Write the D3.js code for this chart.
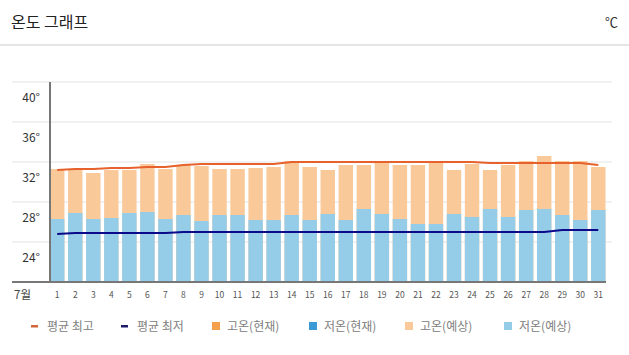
<!DOCTYPE html>
<html><head><meta charset="utf-8">
<script src="https://cdn.jsdelivr.net/npm/d3@7"></script>
<style>
body{margin:0;background:#fff;}
svg{display:block;font-family:"Noto Sans CJK KR","Noto Sans",sans-serif;}
</style></head>
<body><svg id="c" width="629" height="355"></svg>
<script>
const days = d3.range(1, 32).map(String);
const highForecast = [31.3,31.3,30.9,31.2,31.2,31.8,31.3,31.7,31.6,31.3,31.3,31.4,31.5,32.1,31.5,31.2,31.7,31.7,32.1,31.7,31.7,32.1,31.2,31.8,31.2,31.7,32.1,32.6,32.1,32.1,31.5];
const lowForecast = [26.3,26.9,26.3,26.4,26.9,27.0,26.3,26.7,26.1,26.7,26.7,26.2,26.2,26.7,26.2,26.8,26.2,27.3,26.8,26.3,25.8,25.8,26.8,26.5,27.3,26.5,27.2,27.3,26.7,26.2,27.2];
const avgHigh = [31.2,31.3,31.3,31.4,31.4,31.5,31.5,31.7,31.8,31.8,31.8,31.8,31.8,32.0,32.0,32.0,32.0,32.0,32.0,32.0,32.0,32.0,32.0,32.0,31.9,31.9,31.9,31.9,31.9,31.9,31.7];
const avgLow = [24.8,24.9,24.9,24.9,24.9,24.9,24.9,25.0,25.0,25.0,25.0,25.0,25.0,25.0,25.0,25.0,25.0,25.0,25.0,25.0,25.0,25.0,25.0,25.0,25.0,25.0,25.0,25.0,25.2,25.2,25.2];
const yTicks = [24, 28, 32, 36, 40];
const legendLabels = ["평균 최고","평균 최저","고온(현재)","저온(현재)","고온(예상)","저온(예상)"];
const legendColors = ["#d0673a","#1b1b6a","#f5a04a","#3a9ad6","#f9c99a","#95cde8"];

const svg = d3.select("#c");
const x = d3.scaleBand().domain(days).range([50, 605.5]).paddingInner(0.2).paddingOuter(0);
const y = d3.scaleLinear().domain([20, 40]).range([282, 82]);

// title
svg.append("text").attr("x", 11).attr("y", 28).attr("font-size", 16).attr("fill", "#222").text("온도 그래프");
svg.append("text").attr("x", 618).attr("y", 27).attr("text-anchor", "end").attr("font-size", 13).attr("fill", "#333").text("℃");
svg.append("line").attr("x1", 0).attr("x2", 629).attr("y1", 45).attr("y2", 45).attr("stroke", "#dcdcdc").attr("stroke-width", 1.5);

// gridlines
svg.append("g").selectAll("line").data(yTicks).join("line")
  .attr("x1", 12).attr("x2", 612).attr("y1", d => y(d)).attr("y2", d => y(d))
  .attr("stroke", "#ececec").attr("stroke-width", 1.5);
svg.append("g").selectAll("text").data(yTicks).join("text")
  .attr("x", 40).attr("y", d => y(d) + 20).attr("text-anchor", "end")
  .attr("font-size", 12).attr("fill", "#333").text(d => d + "°");

// bars
svg.append("g").selectAll("rect").data(highForecast).join("rect")
  .attr("x", (d, i) => x(days[i])).attr("width", x.bandwidth())
  .attr("y", d => y(d)).attr("height", d => y(20) - y(d)).attr("fill", "#f9c99a");
svg.append("g").selectAll("rect").data(lowForecast).join("rect")
  .attr("x", (d, i) => x(days[i])).attr("width", x.bandwidth())
  .attr("y", d => y(d)).attr("height", d => y(20) - y(d)).attr("fill", "#95cde8");

// lines
const cx = i => x(days[i]) + x.bandwidth() / 2;
const line = d3.line().x((d, i) => cx(i)).y(d => y(d));
svg.append("path").datum(avgHigh).attr("d", line).attr("fill", "none").attr("stroke", "#e6612c").attr("stroke-width", 2.2);
svg.append("path").datum(avgLow).attr("d", line).attr("fill", "none").attr("stroke", "#0a0a8a").attr("stroke-width", 2.2);

// axes
svg.append("line").attr("x1", 50).attr("x2", 50).attr("y1", 82).attr("y2", 282).attr("stroke", "#777").attr("stroke-width", 2);
svg.append("line").attr("x1", 12).attr("x2", 606).attr("y1", 282).attr("y2", 282).attr("stroke", "#777").attr("stroke-width", 2);

// day labels
svg.append("g").selectAll("text").data(days).join("text")
  .attr("x", (d, i) => cx(i)).attr("y", 298).attr("text-anchor", "middle")
  .attr("font-size", 8.5).attr("fill", "#555").text(d => d);
svg.append("text").attr("x", 14).attr("y", 299).attr("font-size", 11.5).attr("fill", "#444").text("7월");

// legend
const lgX = [31, 121, 212, 309, 405, 504];
const lg = svg.append("g");
legendLabels.forEach((t, i) => {
  if (i < 2) {
    lg.append("rect").attr("x", lgX[i]).attr("y", 325).attr("width", 7).attr("height", 2.5).attr("fill", legendColors[i]);
  } else {
    lg.append("rect").attr("x", lgX[i]).attr("y", 322).attr("width", 8).attr("height", 8).attr("fill", legendColors[i]);
  }
  lg.append("text").attr("x", lgX[i] + (i < 2 ? 16 : 15)).attr("y", 331).attr("font-size", 12).attr("fill", "#808080").text(t);
});
</script></body></html>
